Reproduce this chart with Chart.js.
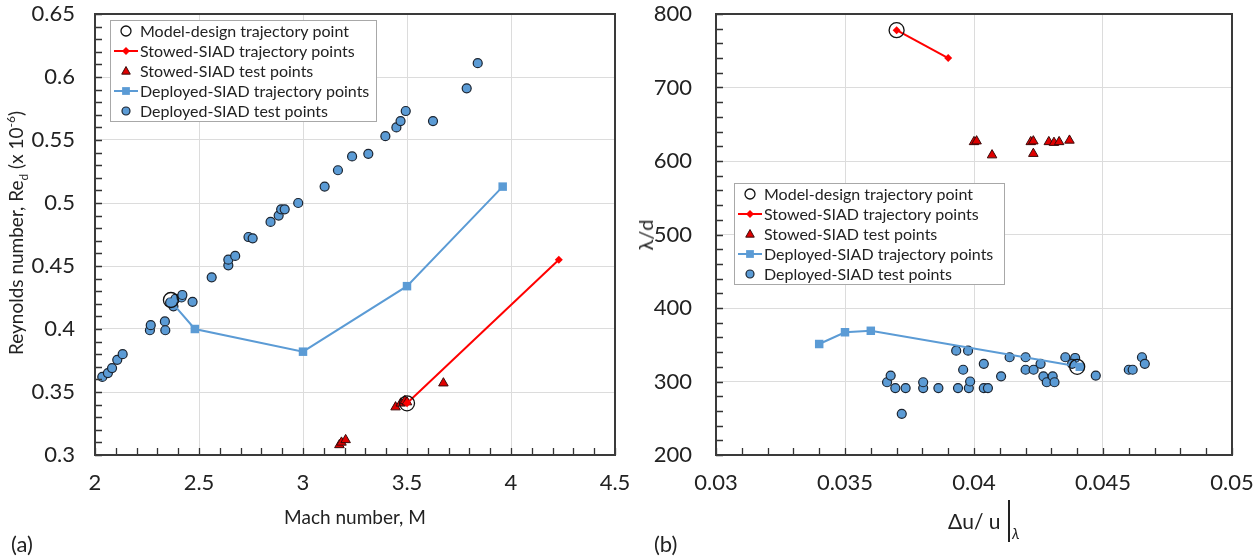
<!DOCTYPE html>
<html>
<head>
<meta charset="utf-8">
<script src="https://cdn.jsdelivr.net/npm/chart.js@4.4.1/dist/chart.umd.min.js"></script>
<style>
  body { margin: 0; background: #fff; }
  #page { position: relative; width: 1260px; height: 560px; font-family: Lato, sans-serif; color: #222; }
  .box { position: absolute; top: 0; width: 630px; height: 560px; }
  .lbl { position: absolute; white-space: nowrap; }
  .rot { transform: translate(-50%, -50%) rotate(-90deg); }
  .ctr { transform: translate(-50%, -50%); }
</style>
</head>
<body>
<div id="page">
  <div class="box" style="left:0"><canvas id="chartA"></canvas></div>
  <div class="box" style="left:630px"><canvas id="chartB"></canvas></div>

  <div class="lbl rot" style="left:17px; top:233px; font-size:19px;">Reynolds number, Re<sub style="font-size:12px">d</sub> (x 10<sup style="font-size:12px">-6</sup>)</div>
  <div class="lbl ctr" style="left:355px; top:516px; font-size:19px;">Mach number, M</div>
  <div class="lbl" style="left:11px; top:530px; font-size:22px;">(a)</div>

  <div class="lbl rot" style="left:645px; top:235px; font-size:20px;">λ/d</div>
  <div class="lbl" style="left:948px; top:500px; font-size:21px; height:42px;">
    <span style="position:absolute; left:0; top:8px;">Δu/ u</span>
    <span style="position:absolute; left:60px; top:0; width:0; height:42px; border-left:2px solid #222;"></span>
    <span style="position:absolute; left:64px; top:24px; font-size:15px; font-style:italic;">λ</span>
  </div>
  <div class="lbl" style="left:654px; top:530px; font-size:22px;">(b)</div>
</div>

<script>
// ---- (a) Reynolds number vs Mach number ----
const machModel = [2.365, 3.5];
const reModel = [0.423, 0.341];
const machStowedTraj = [3.5, 4.23];
const reStowedTraj = [0.341, 0.455];
const machStowedTest = [3.175, 3.185, 3.205, 3.445, 3.47, 3.49, 3.50, 3.675];
const reStowedTest = [0.308, 0.310, 0.312, 0.338, 0.341, 0.343, 0.342, 0.357];
const machDeployedTraj = [2.37, 2.48, 3.0, 3.5, 3.96];
const reDeployedTraj = [0.421, 0.400, 0.382, 0.434, 0.513];
const machDeployedTest = [2.035, 2.062, 2.082, 2.107, 2.133, 2.264, 2.268, 2.336, 2.338, 2.361,
  2.377, 2.387, 2.416, 2.42, 2.469, 2.561, 2.641, 2.641, 2.674, 2.738, 2.758, 2.844, 2.883,
  2.895, 2.912, 2.977, 3.104, 3.168, 3.236, 3.314, 3.396, 3.449, 3.469, 3.494, 3.625, 3.787, 3.84];
const reDeployedTest = [0.362, 0.365, 0.369, 0.3755, 0.380, 0.399, 0.403, 0.406, 0.399, 0.421,
  0.418, 0.424, 0.425, 0.427, 0.4216, 0.441, 0.4505, 0.455, 0.458, 0.473, 0.472, 0.485, 0.490,
  0.495, 0.495, 0.500, 0.513, 0.526, 0.537, 0.539, 0.553, 0.560, 0.565, 0.573, 0.565, 0.591, 0.611];

// ---- (b) lambda/d vs du/u ----
const duModel = [0.0370, 0.0440];
const ldModel = [778, 320];
const duStowedTraj = [0.0370, 0.0390];
const ldStowedTraj = [778, 740];
const duStowedTest = [0.0400, 0.0401, 0.0407, 0.0422, 0.0423, 0.0423, 0.0429, 0.0431, 0.0433, 0.0437];
const ldStowedTest = [626, 627, 608, 626, 627, 610, 626, 625, 626, 628];
const duDeployedTraj = [0.034, 0.035, 0.036, 0.0441];
const ldDeployedTraj = [351, 367, 369, 320];
const duDeployedTest = [0.03663, 0.03677, 0.03695, 0.03735, 0.0372, 0.03803, 0.03803, 0.03862, 0.03938,
  0.03931, 0.03977, 0.03958, 0.0398, 0.03985, 0.04038, 0.04038, 0.04054, 0.04105, 0.04138, 0.042,
  0.042, 0.04231, 0.04258, 0.04269, 0.04282, 0.04305, 0.04312, 0.04354, 0.04392, 0.0438, 0.04472,
  0.046, 0.04615, 0.04651, 0.04662];
const ldDeployedTest = [299, 308, 291, 291, 256, 291, 299, 291, 291, 342, 342, 316, 291, 300, 324,
  291, 291, 307, 333, 333, 316, 316, 324, 307, 299, 307, 299, 333, 332, 324, 308, 316, 316, 333, 324];

const seriesLabels = ['Model-design trajectory point', 'Stowed-SIAD trajectory points',
  'Stowed-SIAD test points', 'Deployed-SIAD trajectory points', 'Deployed-SIAD test points'];

const BLUE = '#5B9BD5';
const RED = '#FF0000';

Chart.defaults.font.family = 'Lato, sans-serif';
Chart.defaults.color = '#222';

function pts(xs, ys) {
  return xs.map((x, i) => ({ x: x, y: ys[i] }));
}

function buildDatasets(set) {
  return [
    { label: seriesLabels[0], data: pts(set[0][0], set[0][1]), pointStyle: 'circle', pointRadius: 7.5,
      pointBackgroundColor: 'rgba(0,0,0,0)', pointBorderColor: '#111', pointBorderWidth: 1.3, legendRadius: 5 },
    { label: seriesLabels[1], data: pts(set[1][0], set[1][1]), showLine: true, borderColor: RED, borderWidth: 2,
      pointStyle: 'rectRot', pointRadius: 4, pointBackgroundColor: RED, pointBorderColor: RED, pointBorderWidth: 0, legendRadius: 4 },
    { label: seriesLabels[2], data: pts(set[2][0], set[2][1]), pointStyle: 'triangle', pointRadius: 5.5,
      pointBackgroundColor: '#E00000', pointBorderColor: '#3a0a0a', pointBorderWidth: 1, legendRadius: 4.5 },
    { label: seriesLabels[3], data: pts(set[3][0], set[3][1]), showLine: true, borderColor: BLUE, borderWidth: 2,
      pointStyle: 'rect', pointRadius: 6, pointBackgroundColor: BLUE, pointBorderColor: BLUE, pointBorderWidth: 0, legendRadius: 5.5 },
    { label: seriesLabels[4], data: pts(set[4][0], set[4][1]), pointStyle: 'circle', pointRadius: 4.5,
      pointBackgroundColor: BLUE, pointBorderColor: '#1b2430', pointBorderWidth: 1.2, legendRadius: 4 }
  ];
}

// simple marker for the legend box
function marker(ctx, style, r, x, y) {
  ctx.beginPath();
  if (style === 'circle') {
    ctx.arc(x, y, r, 0, Math.PI * 2);
  } else if (style === 'triangle') {
    ctx.moveTo(x, y - r);
    ctx.lineTo(x + r * 0.95, y + r * 0.7);
    ctx.lineTo(x - r * 0.95, y + r * 0.7);
    ctx.closePath();
  } else if (style === 'rect') {
    const s = r * Math.SQRT1_2;
    ctx.rect(x - s, y - s, 2 * s, 2 * s);
  } else if (style === 'rectRot') {
    ctx.moveTo(x, y - r); ctx.lineTo(x + r, y); ctx.lineTo(x, y + r); ctx.lineTo(x - r, y);
    ctx.closePath();
  }
  ctx.fill();
  ctx.stroke();
}

// frame, inward minor ticks and the boxed legend
const decorations = {
  id: 'decorations',
  afterDatasetsDraw(chart, args, opts) {
    const ctx = chart.ctx;
    const area = chart.chartArea;
    const xs = chart.scales.x, ys = chart.scales.y;
    ctx.save();
    ctx.strokeStyle = '#333';
    ctx.lineWidth = 1.3;
    ctx.beginPath();
    for (let v = xs.min; v <= xs.max + 1e-9; v += opts.xMinor) {
      const px = Math.round(xs.getPixelForValue(v)) + 0.5;
      ctx.moveTo(px, area.bottom); ctx.lineTo(px, area.bottom - 7);
    }
    for (let v = ys.min; v <= ys.max + 1e-9; v += opts.yMinor) {
      const py = Math.round(ys.getPixelForValue(v)) + 0.5;
      ctx.moveTo(area.left, py); ctx.lineTo(area.left + 7, py);
    }
    ctx.stroke();
    ctx.strokeStyle = '#3a3a3a';
    ctx.lineWidth = 2;
    ctx.strokeRect(area.left, area.top, area.right - area.left, area.bottom - area.top);

    const b = opts.legend;
    ctx.fillStyle = '#fff';
    ctx.strokeStyle = '#a8a8a8';
    ctx.lineWidth = 1;
    ctx.fillRect(b.x, b.y, b.w, b.h);
    ctx.strokeRect(b.x + 0.5, b.y + 0.5, b.w, b.h);
    chart.data.datasets.forEach((ds, i) => {
      const cy = b.y + 11 + i * 20;
      const cx = b.x + 16;
      if (ds.showLine) {
        ctx.strokeStyle = ds.borderColor;
        ctx.lineWidth = 2;
        ctx.beginPath(); ctx.moveTo(cx - 12, cy); ctx.lineTo(cx + 12, cy); ctx.stroke();
      }
      ctx.fillStyle = ds.pointBackgroundColor;
      ctx.strokeStyle = ds.pointBorderColor;
      ctx.lineWidth = ds.pointBorderWidth || 0.01;
      marker(ctx, ds.pointStyle, ds.legendRadius, cx, cy);
      ctx.fillStyle = '#222';
      ctx.font = '16px Lato, sans-serif';
      ctx.textBaseline = 'middle';
      ctx.fillText(ds.label, b.x + 30, cy + 1);
    });
    ctx.restore();
  }
};

function makeChart(id, datasets, ax, pad) {
  return new Chart(document.getElementById(id), {
    type: 'scatter',
    data: { datasets: datasets },
    options: {
      responsive: true,
      maintainAspectRatio: false,
      animation: false,
      layout: { padding: pad },
      plugins: {
        legend: { display: false },
        tooltip: { enabled: false },
        decorations: { xMinor: ax.xMinor, yMinor: ax.yMinor, legend: ax.legend }
      },
      scales: {
        x: {
          type: 'linear', min: ax.xMin, max: ax.xMax,
          ticks: { stepSize: ax.xStep, padding: 15, font: { size: 22 }, color: '#222',
            callback: v => String(Number(v.toFixed(4))) },
          grid: { color: '#dcdcdc', drawTicks: false },
          border: { display: false },
          afterFit: s => { s.height = 105; s.paddingLeft = 0; s.paddingRight = 0; }
        },
        y: {
          type: 'linear', min: ax.yMin, max: ax.yMax,
          ticks: { stepSize: ax.yStep, padding: ax.yPad, font: { size: 22 }, color: '#222',
            callback: v => String(Number(v.toFixed(4))) },
          grid: { color: '#dcdcdc', drawTicks: false },
          border: { display: false },
          afterFit: s => { s.width = ax.yWidth; s.paddingTop = 0; s.paddingBottom = 0; }
        }
      }
    },
    plugins: [decorations]
  });
}

makeChart('chartA', buildDatasets([
  [machModel, reModel], [machStowedTraj, reStowedTraj], [machStowedTest, reStowedTest],
  [machDeployedTraj, reDeployedTraj], [machDeployedTest, reDeployedTest]
]), {
  xMin: 2, xMax: 4.5, xStep: 0.5, yMin: 0.3, yMax: 0.65, yStep: 0.05,
  xMinor: 0.1, yMinor: 0.01, yWidth: 95, yPad: 20,
  legend: { x: 110, y: 20, w: 266, h: 101 }
}, { left: 0, top: 14, right: 15, bottom: 0 });

makeChart('chartB', buildDatasets([
  [duModel, ldModel], [duStowedTraj, ldStowedTraj], [duStowedTest, ldStowedTest],
  [duDeployedTraj, ldDeployedTraj], [duDeployedTest, ldDeployedTest]
]), {
  xMin: 0.03, xMax: 0.05, xStep: 0.005, yMin: 200, yMax: 800, yStep: 100,
  xMinor: 0.001, yMinor: 20, yWidth: 86, yPad: 24,
  legend: { x: 104, y: 183, w: 270, h: 101 }
}, { left: 0, top: 14, right: 28, bottom: 0 });
</script>
</body>
</html>
